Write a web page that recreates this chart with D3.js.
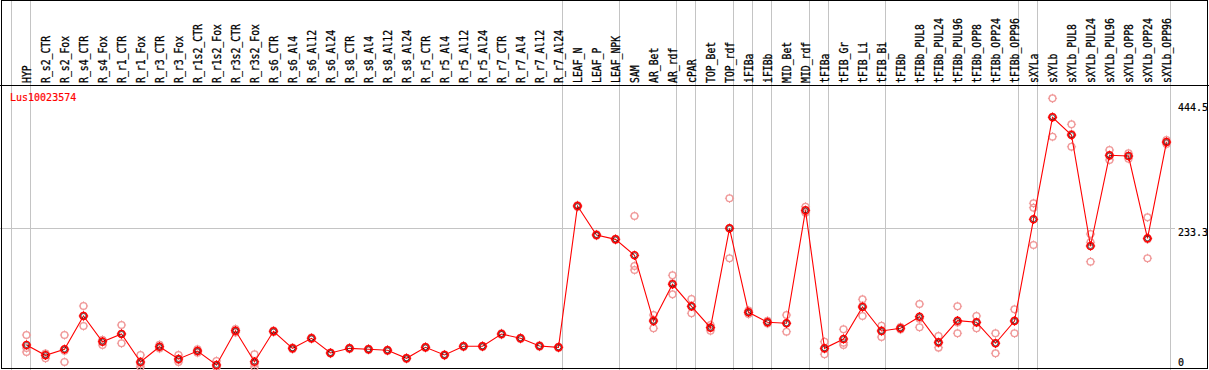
<!DOCTYPE html>
<html>
<head>
<meta charset="utf-8">
<script src="https://cdn.jsdelivr.net/npm/d3@7"></script>
<style>
  html, body { margin: 0; padding: 0; background: #fff; }
  svg { display: block; }
  text { font-family: "DejaVu Sans Mono", monospace; font-size: 10px; }
</style>
</head>
<body>
<script>
const geneId = "Lus10023574"

const categories = [
    "HYP", "R_s2_CTR", "R_s2_Fox", "R_s4_CTR", "R_s4_Fox", "R_r1_CTR", "R_r1_Fox",
    "R_r3_CTR", "R_r3_Fox", "R_r1s2_CTR", "R_r1s2_Fox", "R_r3s2_CTR", "R_r3s2_Fox",
    "R_s6_CTR", "R_s6_Al4", "R_s6_Al12", "R_s6_Al24", "R_s8_CTR", "R_s8_Al4",
    "R_s8_Al12", "R_s8_Al24", "R_r5_CTR", "R_r5_Al4", "R_r5_Al12", "R_r5_Al24",
    "R_r7_CTR", "R_r7_Al4", "R_r7_Al12", "R_r7_Al24", "LEAF_N", "LEAF_P", "LEAF_NPK",
    "SAM", "AR_Bet", "AR_rdf", "cPAR", "TOP_Bet", "TOP_rdf", "iFIBa", "iFIBb",
    "MID_Bet", "MID_rdf", "tFIBa", "tFIB_Gr", "tFIB_Li", "tFIB_Bi", "tFIBb",
    "tFIBb_PUL8", "tFIBb_PUL24", "tFIBb_PUL96", "tFIBb_OPP8", "tFIBb_OPP24", "tFIBb_OPP96",
    "sXYLa", "sXYLb", "sXYLb_PUL8", "sXYLb_PUL24", "sXYLb_PUL96", "sXYLb_OPP8",
    "sXYLb_OPP24", "sXYLb_OPP96"
]

// first sample of each group (vertical separators)
const groupStarts = [
    "HYP", "R_s2_CTR", "LEAF_N", "SAM", "cPAR", "TOP_Bet", "iFIBa", "iFIBb",
    "MID_Bet", "tFIBa", "tFIB_Gr", "tFIBb", "sXYLa", "sXYLb"
]

const means = [
    37.0, 19.7, 29.8, 85.8, 42.5, 55.5, 8.4, 34.1, 13.5, 26.9, 3.4, 61.0, 8.9,
    60.0, 31.4, 48.3, 23.5, 31.4, 29.8, 28.1, 14.6, 33.1, 20.2, 34.8, 34.8,
    55.5, 48.3, 35.3, 33.1, 270.7, 222.0, 214.7,
    187.8, 77.3, 139.1, 102.1, 66.1, 233.2, 92.0, 75.2,
    73.5, 263.5, 31.4, 47.1, 100.9, 60.5, 65.1,
    84.6, 41.5, 77.9, 75.2, 39.9, 77.3,
    248.4, 419.9, 390.1, 203.5, 356.0, 354.8, 216.4, 378.3
]

const rep1 = [
    53.8, 14.6, 53.8, 102.6, 37.0, 70.6, 20.2, 31.0, 20.2, 24.0, 10.2, 58.0, 21.4,
    58.5, 30.0, 47.0, 22.5, 30.2, 28.8, 27.0, 13.5, 32.0, 19.2, 33.6, 33.8,
    54.2, 47.2, 34.2, 32.0, 269.0, 220.8, 213.5,
    253.9, 87.4, 154.2, 114.3, 70.6, 283.7, 89.0, 73.0,
    87.4, 269.5, 42.5, 63.4, 113.8, 69.4, 63.0,
    105.9, 52.1, 102.1, 85.8, 56.7, 97.0,
    275.3, 451.8, 408.1, 223.6, 364.9, 359.3, 251.7, 381.7
]

const rep2 = [
    25.2, 22.0, 8.4, 68.9, 45.4, 39.9, 0.0, 34.0, 8.4, 27.0, 0.0, 61.0, 0.0,
    60.2, 31.6, 48.5, 23.8, 31.5, 30.0, 28.2, 14.8, 33.2, 20.4, 35.0, 34.9,
    55.6, 48.5, 35.4, 33.3, 271.0, 222.2, 215.0,
    169.8, 65.1, 122.2, 90.3, 61.0, 182.8, 92.0, 75.0,
    59.4, 259.5, 21.4, 37.0, 85.8, 50.4, 65.0,
    66.8, 32.5, 56.7, 65.1, 23.0, 56.7,
    267.9, 387.3, 370.4, 177.1, 348.1, 350.3, 182.8, 375.0
]

const rep3 = [
    31.9, 22.5, 27.2, 85.9, 45.1, 56.0, 5.0, 37.3, 11.9, 29.7, 0.0, 64.0, 5.3,
    61.3, 32.6, 49.4, 24.2, 32.5, 30.6, 29.1, 15.5, 34.1, 21.0, 35.8, 35.7,
    56.7, 49.2, 36.3, 34.0, 272.1, 223.0, 215.6,
    163.1, 79.4, 140.9, 101.7, 66.7, 233.1, 95.0, 77.6,
    73.7, 261.5, 30.3, 40.9, 103.1, 61.7, 67.3,
    81.1, 39.9, 74.9, 74.7, 40.0, 78.2,
    205.1, 420.6, 391.8, 209.8, 355.0, 354.8, 214.7, 378.2
]

const yMax = 466.7
const yTickValues = [0, 233.3, 444.5]
const yGridValues = [233.3]

const width = 1209
const height = 370
const headerBottom = 85
const markOffset = 15

const svg = d3.select("body")
    .append("svg")
    .attr("width", width)
    .attr("height", height)

const xs = d3.scaleBand()
    .domain(categories)
    .range([11.5, 11.5 + 19 * categories.length])
    .paddingInner(0)
    .paddingOuter(0)

const ys = d3.scaleLinear()
    .domain([0, yMax])
    .range([367, 89.5])

const cx = c => xs(c) + markOffset

// little cross ticks around each ring, like the original bitmap markers
function addTicks(sel, r, color) {
    const t = [[0, -r - 1.2, 0, -r + 0.6], [0, r - 0.6, 0, r + 1.2],
               [-r - 1.2, 0, -r + 0.6, 0], [r - 0.6, 0, r + 1.2, 0]]
    t.forEach(p => {
        sel.append("line")
            .attr("x1", p[0]).attr("y1", p[1])
            .attr("x2", p[2]).attr("y2", p[3])
            .attr("stroke", color)
            .attr("stroke-width", 1)
    })
}

// grid
svg.append("g")
    .attr("stroke", "#c4c4c4")
    .attr("shape-rendering", "crispEdges")
    .selectAll("line.v")
    .data(groupStarts.map(xs).concat([xs.range()[1]]))
    .enter()
    .append("line")
    .attr("x1", d => d)
    .attr("x2", d => d)
    .attr("y1", 0)
    .attr("y2", height)

svg.append("g")
    .attr("stroke", "#c4c4c4")
    .attr("shape-rendering", "crispEdges")
    .selectAll("line")
    .data(yGridValues)
    .enter()
    .append("line")
    .attr("x1", 0)
    .attr("x2", 1175)
    .attr("y1", d => Math.round(ys(d)) + 0.5)
    .attr("y2", d => Math.round(ys(d)) + 0.5)

// frame and header separator
svg.append("rect")
    .attr("x", 1.5)
    .attr("y", 0.5)
    .attr("width", width - 3)
    .attr("height", height - 2)
    .attr("fill", "none")
    .attr("stroke", "#000")
    .attr("shape-rendering", "crispEdges")

svg.append("line")
    .attr("x1", 0)
    .attr("x2", width)
    .attr("y1", headerBottom + 0.5)
    .attr("y2", headerBottom + 0.5)
    .attr("stroke", "#000")
    .attr("shape-rendering", "crispEdges")

// sample labels
svg.append("g")
    .selectAll("text")
    .data(categories)
    .enter()
    .append("text")
    .attr("transform", d => `translate(${cx(d) + 4.5},${headerBottom - 2}) rotate(-90) scale(0.98,1.15)`)
    .attr("fill", "#000")
    .attr("stroke", "#000")
    .attr("stroke-width", 0.25)
    .text(d => d)

svg.append("text")
    .attr("x", 10)
    .attr("y", 101)
    .attr("fill", "#ff0000")
    .attr("stroke", "#ff0000")
    .attr("stroke-width", 0.2)
    .text(geneId)

// right axis labels
svg.append("g")
    .selectAll("text")
    .data(yTickValues)
    .enter()
    .append("text")
    .attr("x", 1178)
    .attr("y", d => Math.min(ys(d) + 8, 365.5))
    .attr("fill", "#000")
    .attr("stroke", "#000")
    .attr("stroke-width", 0.2)
    .text(d => d)

// replicates
const reps = [rep1, rep2, rep3]
reps.forEach(r => {
    const g = svg.append("g")
        .selectAll("g")
        .data(categories)
        .enter()
        .append("g")
        .attr("transform", (d, i) => `translate(${cx(d)},${ys(r[i])})`)
    g.append("circle")
        .attr("r", 3.4)
        .attr("fill", "none")
        .attr("stroke", "#f09a9a")
        .attr("stroke-width", 1.3)
    addTicks(g, 3.4, "#f09a9a")
})

// mean line
svg.append("path")
    .datum(means)
    .attr("fill", "none")
    .attr("stroke", "#ff0000")
    .attr("stroke-width", 1.1)
    .attr("d", d3.line()
        .x((d, i) => cx(categories[i]))
        .y(d => ys(d)))

const meanMarks = svg.append("g")
    .selectAll("g")
    .data(means)
    .enter()
    .append("g")
    .attr("transform", (d, i) => `translate(${cx(categories[i])},${ys(d)})`)

meanMarks.append("circle")
    .attr("r", 3.5)
    .attr("fill", "none")
    .attr("stroke", "#ff0000")
    .attr("stroke-width", 1.5)

meanMarks.append("circle")
    .attr("r", 2.4)
    .attr("fill", "none")
    .attr("stroke", "#000")
    .attr("stroke-width", 0.6)

addTicks(meanMarks, 3.5, "#ff0000")
</script>
</body>
</html>
